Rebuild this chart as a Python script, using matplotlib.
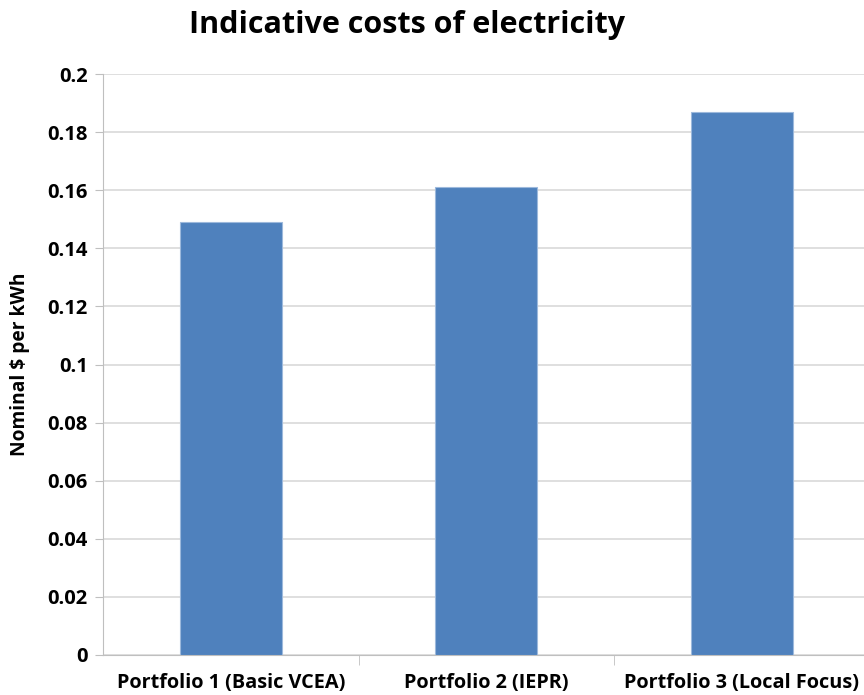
import numpy as np
import matplotlib.pyplot as plt

categories = ['Portfolio 1 (Basic VCEA)', 'Portfolio 2 (IEPR)', 'Portfolio 3 (Local Focus)']
costs = [0.149, 0.161, 0.187]
yticks = [0, 0.02, 0.04, 0.06, 0.08, 0.1, 0.12, 0.14, 0.16, 0.18, 0.2]
ytick_labels = ['0', '0.02', '0.04', '0.06', '0.08', '0.1', '0.12', '0.14', '0.16', '0.18', '0.2']

plt.rcParams['font.family'] = ['Open Sans', 'DejaVu Sans']

fig = plt.figure(figsize=(8.64, 6.95), dpi=100)
ax = fig.add_axes([103 / 864, 40 / 695, 766.5 / 864, 581 / 695])

x = np.arange(len(categories))
ax.bar(x, costs, width=0.4, color='#4F81BD', edgecolor='#9DB9DC', linewidth=0.8, zorder=3)

ax.set_xlim(-0.5, 2.5)
ax.set_ylim(0, 0.2)
ax.set_yticks(yticks)
ax.set_yticklabels(ytick_labels, fontsize=14.5, fontweight='bold')
ax.set_xticks(x)
ax.set_xticklabels(categories, fontsize=14.3, fontweight='bold')
ax.tick_params(axis='x', which='major', length=0, pad=13)
ax.set_xticks([0.5, 1.5], minor=True)
ax.tick_params(axis='x', which='minor', length=7, color='#BFBFBF')
ax.tick_params(axis='y', length=6, color='#BFBFBF', pad=5)

ax.grid(axis='y', color='#D9D9D9', linewidth=1.2, zorder=0)
for side in ['top', 'right']:
    ax.spines[side].set_visible(False)
ax.spines['left'].set_color('#BFBFBF')
ax.spines['bottom'].set_color('#BFBFBF')

ax.set_ylabel('Nominal $ per kWh', fontsize=13.8, fontweight='bold')
ax.yaxis.set_label_coords(-73 / 766.5, 0.5)
fig.text(407 / 864, 1 - 25 / 695, 'Indicative costs of electricity', fontsize=22,
         fontweight='bold', ha='center', va='center')

fig.savefig('out.png', dpi=100)
